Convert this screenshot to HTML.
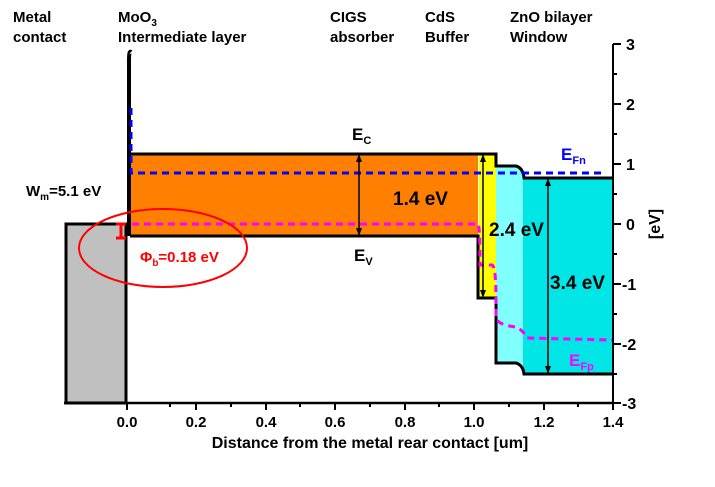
<!DOCTYPE html>
<html><head><meta charset="utf-8"><style>
html,body{margin:0;padding:0;background:#fff;}
svg{display:block;font-family:"Liberation Sans",Arial,sans-serif;font-weight:bold;}
</style></head><body>
<svg width="715" height="487" viewBox="0 0 715 487" xmlns="http://www.w3.org/2000/svg">
<defs>
<marker id="ah" markerWidth="8" markerHeight="8" refX="4" refY="4" orient="auto-start-reverse" markerUnits="userSpaceOnUse">
<path d="M0,1 L8,4 L0,7 z" fill="#000"/></marker>
</defs>
<rect x="66" y="224" width="60" height="179" fill="#c0c0c0" stroke="#000" stroke-width="3"/>
<rect x="130" y="154" width="348" height="82" fill="#ff8000"/>
<rect x="479" y="154" width="17" height="144" fill="#ffff00"/>
<path d="M496,166 L516,166 Q523,168 523,178 L523,374 L523,363 L496,363 Z" fill="#80ffff"/>
<rect x="523" y="178" width="89" height="196" fill="#00e5e5"/>
<path d="M129,236 L129,60 Q129,50 131,52" fill="none" stroke="#000" stroke-width="4"/>
<path d="M130,154 L478,154 L496,154 L496,166 L516,166 Q523,168 524,178 L612,178" fill="none" stroke="#000" stroke-width="3"/>
<path d="M130,236 L478,236 L478,298 L496,298 L496,363 L516,363 Q523,365 524,374 L612,374" fill="none" stroke="#000" stroke-width="3"/>
<path d="M131,108 L131,173 L603,173" fill="none" stroke="#0000ff" stroke-width="3" stroke-dasharray="7,5"/>
<path d="M132,224 L478,224 Q480,226 480,265 L492,265 Q496,266 496,300 L496,318 Q498,325 516,327 Q523,330 527,338 L612,340" fill="none" stroke="#ff00ff" stroke-width="3" stroke-dasharray="7,5"/>
<line x1="359" y1="158" x2="359" y2="232" stroke="#000" stroke-width="1.5" marker-start="url(#ah)" marker-end="url(#ah)"/>
<line x1="483" y1="158" x2="483" y2="294" stroke="#000" stroke-width="1.5" marker-start="url(#ah)" marker-end="url(#ah)"/>
<line x1="548" y1="182" x2="548" y2="370" stroke="#000" stroke-width="1.5" marker-start="url(#ah)" marker-end="url(#ah)"/>
<path d="M116,224 L126,224 M121,224 L121,238 M116,238 L126,238" stroke="#ff0000" stroke-width="3"/>
<ellipse cx="163" cy="248" rx="84" ry="39" fill="none" stroke="#ff0000" stroke-width="2"/>
<line x1="64" y1="403" x2="614" y2="403" stroke="#000" stroke-width="2.5"/>
<line x1="613" y1="44" x2="613" y2="404" stroke="#000" stroke-width="2"/>
<g stroke="#000" stroke-width="2">
<line x1="127" y1="403" x2="127" y2="410"/><line x1="170" y1="403" x2="170" y2="407"/>
<line x1="196" y1="403" x2="196" y2="410"/><line x1="231" y1="403" x2="231" y2="407"/>
<line x1="266" y1="403" x2="266" y2="410"/><line x1="300" y1="403" x2="300" y2="407"/>
<line x1="335" y1="403" x2="335" y2="410"/><line x1="370" y1="403" x2="370" y2="407"/>
<line x1="405" y1="403" x2="405" y2="410"/><line x1="439" y1="403" x2="439" y2="407"/>
<line x1="474" y1="403" x2="474" y2="410"/><line x1="509" y1="403" x2="509" y2="407"/>
<line x1="544" y1="403" x2="544" y2="410"/><line x1="578" y1="403" x2="578" y2="407"/>
<line x1="613" y1="403" x2="613" y2="410"/>
<line x1="613" y1="44" x2="621" y2="44"/><line x1="613" y1="74" x2="617" y2="74"/>
<line x1="613" y1="104" x2="621" y2="104"/><line x1="613" y1="134" x2="617" y2="134"/>
<line x1="613" y1="164" x2="621" y2="164"/><line x1="613" y1="194" x2="617" y2="194"/>
<line x1="613" y1="224" x2="621" y2="224"/><line x1="613" y1="254" x2="617" y2="254"/>
<line x1="613" y1="284" x2="621" y2="284"/><line x1="613" y1="314" x2="617" y2="314"/>
<line x1="613" y1="344" x2="621" y2="344"/><line x1="613" y1="374" x2="617" y2="374"/>
<line x1="613" y1="403" x2="621" y2="403"/>
</g>
<g font-size="15" text-anchor="middle">
<text x="127" y="427">0.0</text><text x="196" y="427">0.2</text><text x="266" y="427">0.4</text>
<text x="335" y="427">0.6</text><text x="405" y="427">0.8</text><text x="474" y="427">1.0</text>
<text x="544" y="427">1.2</text><text x="613" y="427">1.4</text>
<text x="370" y="448" font-size="16">Distance from the metal rear contact [um]</text>
</g>
<g font-size="16">
<text x="626" y="50">3</text><text x="626" y="110">2</text><text x="626" y="170">1</text>
<text x="626" y="230">0</text><text x="622" y="290">-1</text><text x="622" y="350">-2</text>
<text x="622" y="409">-3</text>
<text transform="translate(660,224) rotate(-90)" text-anchor="middle">[eV]</text>
</g>
<g font-size="15">
<text x="13" y="22">Metal</text><text x="13" y="42">contact</text>
<text x="118" y="22">MoO<tspan font-size="10" dy="4">3</tspan></text><text x="118" y="42">Intermediate layer</text>
<text x="330" y="22">CIGS</text><text x="330" y="42">absorber</text>
<text x="425" y="22">CdS</text><text x="425" y="42">Buffer</text>
<text x="510" y="22">ZnO bilayer</text><text x="510" y="42">Window</text>
<text x="26" y="196">W<tspan font-size="10" dy="4">m</tspan><tspan dy="-4">=5.1 eV</tspan></text>
<text x="140" y="262" fill="#ff0000">Φ<tspan font-size="10" dy="4">b</tspan><tspan dy="-4">=0.18 eV</tspan></text>
<text x="352" y="140" font-size="17">E<tspan font-size="11" dy="4">C</tspan></text>
<text x="354" y="261" font-size="17">E<tspan font-size="11" dy="4">V</tspan></text>
<text x="393" y="205" font-size="19">1.4 eV</text>
<text x="489" y="236" font-size="19">2.4 eV</text>
<text x="550" y="289" font-size="19">3.4 eV</text>
<text x="561" y="160" fill="#0000ff" font-size="17">E<tspan font-size="11" dy="4">Fn</tspan></text>
<text x="569" y="366" fill="#ff00ff" font-size="17">E<tspan font-size="11" dy="4">Fp</tspan></text>
</g>
</svg>
</body></html>
